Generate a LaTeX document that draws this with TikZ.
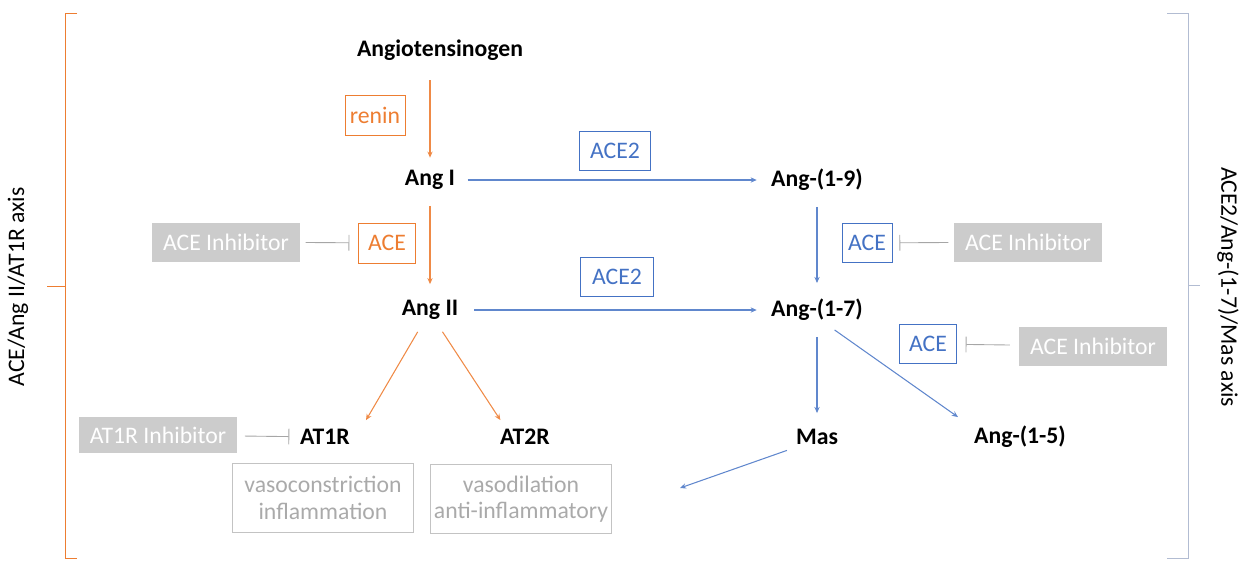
\documentclass[tikz,border=0pt]{standalone}
\usepackage{fontspec}
\setmainfont{Carlito}
\usetikzlibrary{arrows.meta}
\definecolor{raasorange}{RGB}{237,125,49}
\definecolor{raasblue}{RGB}{68,114,196}
\definecolor{inhgray}{RGB}{204,204,204}
\definecolor{effgray}{RGB}{170,170,170}
\definecolor{axisblue}{RGB}{178,188,210}
\tikzset{
  mol/.style={font=\bfseries, inner sep=5pt},
  enzo/.style={draw=raasorange, text=raasorange, minimum height=0.8cm, inner sep=2pt},
  enzb/.style={draw=raasblue, text=raasblue, minimum height=0.78cm, inner sep=2pt},
  inhbox/.style={fill=inhgray, text=white, minimum height=0.78cm, minimum width=2.96cm, inner sep=2pt},
  effbox/.style={draw=effgray!70, text=effgray, align=center, minimum height=1.38cm, inner sep=2pt},
  oarr/.style={raasorange!90, -{Stealth[length=3.5pt,width=3pt]}, line width=0.6pt},
  barr/.style={raasblue!85, -{Stealth[length=3.5pt,width=3pt]}, line width=0.6pt},
  block/.style={gray!70, -{Bar[width=9pt]}, line width=0.5pt},
}
\begin{document}
\fontsize{13.5}{15}\selectfont
\begin{tikzpicture}[x=0.02cm, y=-0.02cm]
  \useasboundingbox (0,0) rectangle (1250,562);
  % molecules
  \node[mol] (agt) at (440,50) {Angiotensinogen};
  \node[mol] (angI) at (430,180) {Ang I};
  \node[mol] (angII) at (430,310) {Ang II};
  \node[mol] (ang19) at (817,180) {Ang-(1-9)};
  \node[mol] (ang17) at (817,310) {Ang-(1-7)};
  \node[mol] (at1r) at (325,437) {AT1R};
  \node[mol] (at2r) at (525,437) {AT2R};
  \node[mol] (mas) at (817,437) {Mas};
  \node[mol] (ang15) at (1020,437) {Ang-(1-5)};
  % enzymes
  \node[enzo, minimum width=1.2cm] (renin) at (375,115) {renin};
  \node[enzo, minimum width=1.14cm] (aceL) at (387,243) {ACE};
  \node[enzb, minimum width=1.42cm] (ace2a) at (615,151) {ACE2};
  \node[enzb, minimum width=1.46cm] (ace2b) at (617,277) {ACE2};
  \node[enzb, minimum width=1.0cm] (aceR) at (867,243) {ACE};
  \node[enzb, minimum width=1.14cm] (aceM) at (928,344) {ACE};
  % inhibitors
  \node[inhbox] (inhL) at (226,242) {ACE Inhibitor};
  \node[inhbox] (inhR) at (1028,242) {ACE Inhibitor};
  \node[inhbox] (inhM) at (1093,346) {ACE Inhibitor};
  \node[inhbox, minimum width=3.18cm, minimum height=0.72cm] (inhA) at (158,435) {AT1R Inhibitor};
  % effects
  \node[effbox, minimum width=3.62cm] (vasoc) at (323,498) {vasoconstriction\\inflammation};
  \node[effbox, minimum width=3.36cm] (vasod) at (521,499) {vasodilation\\anti-inflammatory};
  \coordinate (effend) at (680,488);
  % ACE/Ang II/AT1R pathway
  \draw[oarr, shorten <=6pt, shorten >=2pt] (agt.south -| angI) -- (angI);
  \draw[oarr, shorten <=4pt, shorten >=4pt] (angI) -- (angII);
  \draw[oarr, shorten <=2pt] ([xshift=-6pt]angII.south) -- ([xshift=4pt]at1r.north east);
  \draw[oarr, shorten <=2pt] ([xshift=6pt]angII.south) -- ([xshift=-14pt]at2r.north);
  % ACE2/Ang-(1-7)/Mas pathway
  \draw[barr, shorten <=2pt, shorten >=3pt] (angI) -- (ang19);
  \draw[barr, shorten <=4pt, shorten >=3pt] (angII) -- (ang17);
  \draw[barr, shorten <=4pt, shorten >=4pt] (ang19) -- (ang17);
  \draw[barr, shorten <=4pt, shorten >=4pt] (ang17) -- (mas);
  \draw[barr] ([xshift=10pt]ang17.south) -- ([xshift=-4pt]ang15.north west);
  \draw[barr] ([yshift=2pt]mas.south west) -- (effend);
  % inhibition
  \draw[block, shorten <=3pt, shorten >=5pt] (inhL) -- (aceL);
  \draw[block, shorten <=3pt, shorten >=4pt] (inhR) -- (aceR);
  \draw[block, shorten <=5pt, shorten >=5pt] (inhM) -- (aceM);
  \draw[block, shorten <=4pt, shorten >=1pt] (inhA) -- (at1r);
  % axes
  \draw[raasorange, line width=0.5pt] (77,13) -- (65,13) -- (65,558) -- (77,558) (65,286) -- (47,286);
  \draw[axisblue, line width=0.5pt] (1167,13) -- (1188,13) -- (1188,558) -- (1167,558) (1188,285) -- (1200,285);
  \node[rotate=90] (axisL) at (18,287) {ACE/Ang II/AT1R axis};
  \node[rotate=-90] (axisR) at (1228,287) {ACE2/Ang-(1-7)/Mas axis};
\end{tikzpicture}
\end{document}
